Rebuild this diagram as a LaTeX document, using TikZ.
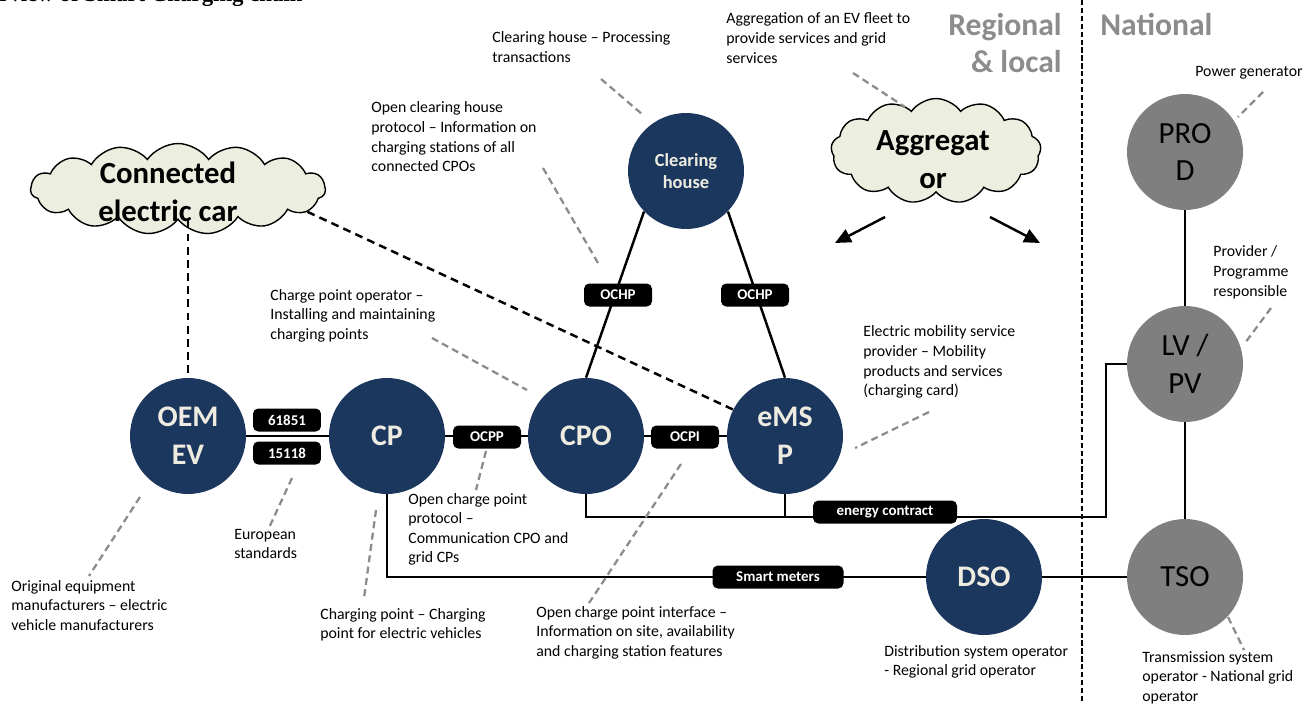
\documentclass[tikz,border=0pt]{standalone}
\usepackage{fontspec}
\setmainfont{Carlito}
\newfontfamily\headfont{Liberation Serif}
\usetikzlibrary{shapes.symbols,arrows.meta}
\definecolor{navy}{RGB}{28,55,94}
\definecolor{cream}{RGB}{238,236,225}
\definecolor{actorgray}{RGB}{127,127,127}
\definecolor{cloudfill}{RGB}{236,239,223}
\definecolor{notegray}{RGB}{140,140,140}
\tikzset{
  actor/.style={circle,fill=navy,text=cream,minimum size=2.32cm,inner sep=0pt,align=center,font=\fontsize{17}{21.5}\selectfont\bfseries},
  natactor/.style={circle,fill=actorgray,text=black,minimum size=2.32cm,inner sep=0pt,align=center,font=\fontsize{17.5}{21.5}\selectfont},
  proto/.style={fill=black,text=white,rounded corners=3pt,minimum width=1.36cm,minimum height=0.46cm,inner sep=0pt,font=\fontsize{8.5}{10}\selectfont\bfseries},
  bubble/.style={cloud,cloud puffs=13,cloud puff arc=110,cloud ignores aspect,draw=black,line width=0.8pt,fill=cloudfill,inner sep=0pt},
  bubbletext/.style={align=center,inner sep=0pt,font=\fontsize{17.5}{21.5}\selectfont\bfseries},
  note/.style={align=left,anchor=base west,inner sep=0pt,font=\fontsize{9}{11.1}\selectfont},
  callout/.style={draw=notegray,line width=1.3pt,dash pattern=on 4pt off 2.5pt},
  link/.style={line width=1.4pt},
  carlink/.style={line width=1.4pt,dash pattern=on 4.5pt off 3pt},
  region/.style={text=notegray,inner sep=0pt,font=\fontsize{18}{21}\selectfont\bfseries},
}
\begin{document}
\begin{tikzpicture}[x=0.02cm,y=-0.02cm]
  \useasboundingbox (0,0) rectangle (1307,703);
  \node[anchor=base east,inner sep=0pt,font=\headfont\fontsize{13}{15}\selectfont\bfseries] (title) at (303,1.5) {Overview of Smart Charging chain};

  % actors
  \node[actor] (oem) at (188,436) {OEM\\EV};
  \node[actor] (cp) at (387,436) {CP};
  \node[actor] (cpo) at (586,436) {CPO};
  \node[actor] (emsp) at (785,436) {eMS\\P};
  \node[actor,font=\fontsize{10.5}{12.5}\selectfont\bfseries] (ch) at (686,171) {Clearing\\house};
  \node[actor] (dso) at (984,577) {DSO};
  \node[natactor] (prod) at (1185,152) {PRO\\D};
  \node[natactor] (lvpv) at (1185,364) {LV /\\PV};
  \node[natactor] (tso) at (1185,577) {TSO};

  \node[bubble,cloud puffs=15,minimum width=5.9cm,minimum height=1.82cm] (carcloud) at (178,189) {};
  \node[bubbletext] (cartext) at (168,192) {Connected\\electric car};
  \node[bubble,minimum width=4.2cm,minimum height=2.1cm] (aggcloud) at (936,151) {};
  \node[bubbletext] (aggtext) at (933,160) {Aggregat\\or};

  % connections
  \draw[link] (oem) -- (cp);
  \draw[link] (cp) -- (cpo);
  \draw[link] (cpo) -- (emsp);
  \draw[link] (ch.224) -- (cpo.north);
  \draw[link] (ch.316) -- (emsp.north);
  \draw[link] (prod) -- (lvpv);
  \draw[link] (lvpv) -- (tso);
  \draw[link] (dso) -- (tso);
  \coordinate (ebend) at (1106,517);
  \draw[link] (cpo.south) |- (ebend) |- (lvpv.west);
  \draw[link] (emsp.south) -- (emsp.south |- ebend);
  \draw[link] (cp.south) |- (dso.west);

  \node[proto] (iec) at (287,420) {61851};
  \node[proto] (iso) at (287,453) {15118};
  \node[proto] (ocpp) at (487,437) {OCPP};
  \node[proto] (ocpi) at (685,437) {OCPI};
  \node[proto] (ochpl) at (618,295) {OCHP};
  \node[proto] (ochpr) at (755,295) {OCHP};
  \node[proto,minimum width=2.88cm] (contract) at (885,512) {energy contract};
  \node[proto,minimum width=2.62cm] (meters) at (778,577) {Smart meters};

  \draw[carlink] (oem.north |- carcloud.south) -- (oem.north);
  \draw[carlink] (carcloud.-10) -- (emsp.153);

  \coordinate (aggls) at (885,217);
  \coordinate (aggl) at (835,243);
  \coordinate (aggrs) at (990,217);
  \coordinate (aggr) at (1040,243);
  \draw[link,-{Triangle[length=9pt,width=8pt]}] (aggls) -- (aggl);
  \draw[link,-{Triangle[length=9pt,width=8pt]}] (aggrs) -- (aggr);

  \draw[line width=1.1pt,dash pattern=on 3pt off 1.5pt] (1082,0) -- (1082,703);
  \node[region,align=right,anchor=base east] (regional) at (1062,72) {Regional\\\& local};
  \node[region,anchor=base west] (national) at (1100,35) {National};

  % notes (anchored at the baseline of their last line)
  \node[note] (notech) at (492,62.5) {Clearing house – Processing\\transactions};
  \node[note] (noteagg) at (726,63) {Aggregation of an EV fleet to\\provide services and grid\\services};
  \node[note] (noteochp) at (371,171.5) {Open clearing house\\protocol – Information on\\charging stations of all\\connected CPOs};
  \node[note] (notecpo) at (270,339) {Charge point operator –\\Installing and maintaining\\charging points};
  \node[note] (noteemsp) at (863,395.5) {Electric mobility service\\provider – Mobility\\products and services\\(charging card)};
  \node[note] (noteprod) at (1195,76) {Power generator};
  \node[note] (notelvpv) at (1213,296) {Provider /\\Programme\\responsible};
  \node[note] (notetso) at (1142,701) {Transmission system\\operator - National grid\\operator};
  \node[note] (notedso) at (884,675.5) {Distribution system operator\\- Regional grid operator};
  \node[note] (noteocpi) at (536,656) {Open charge point interface –\\Information on site, availability\\and charging station features};
  \node[note] (notecp) at (320,638.5) {Charging point – Charging\\point for electric vehicles};
  \node[note] (noteocpp) at (408,562.5) {Open charge point\\protocol –\\Communication CPO and\\grid CPs};
  \node[note] (noteeu) at (234,558.5) {European\\standards};
  \node[note] (noteoem) at (11,630) {Original equipment\\manufacturers – electric\\vehicle manufacturers};

  \draw[callout] (601,79) -- (643,115);
  \draw[callout] (853,73) -- (905,107);
  \draw[callout] (543,168) -- (598,263);
  \draw[callout] (432,338) -- (527,390);
  \draw[callout] (929,412) -- (855,448);
  \draw[callout] (1263,92) -- (1238,117);
  \draw[callout] (1271,308) -- (1245,343);
  \draw[callout] (1228,617) -- (1244,650);
  \draw[callout] (681,464) -- (589,603);
  \draw[callout] (376,510) -- (364,598);
  \draw[callout] (486,451) -- (476,490);
  \draw[callout] (292,478) -- (268,530);
  \draw[callout] (140,497) -- (89,576);
\end{tikzpicture}
\end{document}
